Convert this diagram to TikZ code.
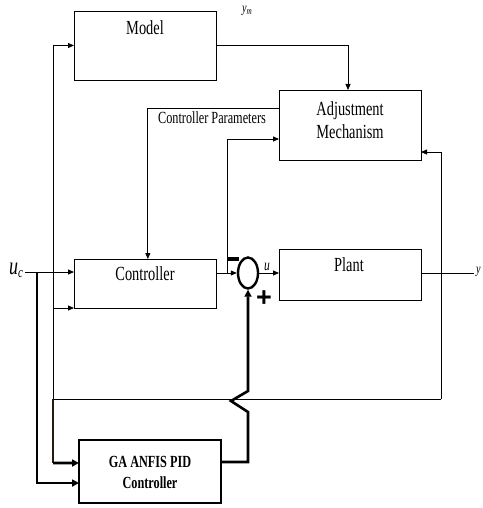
\documentclass[tikz,border=0pt]{standalone}
\usepackage{fontspec}
\setmainfont{Liberation Serif}[FakeStretch=0.72]
\newfontfamily\signfont{Liberation Sans}
\usetikzlibrary{arrows.meta,shapes.geometric,calc}
\begin{document}
\begin{tikzpicture}[x=1pt,y=-1pt,
  box/.style={draw, line width=0.8pt, inner sep=0pt, outer sep=0pt},
  thickbox/.style={draw, line width=2.6pt, inner sep=0pt, outer sep=0pt},
  thin/.style={line width=0.8pt},
  heavy/.style={line width=2.6pt},
  tip/.style={-{Triangle[length=6pt,width=5pt]}},
  bigtip/.style={-{Triangle[length=7pt,width=7pt]}},
  lbl/.style={font=\fontsize{20}{23}\selectfont, inner sep=0pt, align=center},
  blbl/.style={font=\fontsize{17}{21}\selectfont\bfseries, inner sep=0pt, align=center}]
\useasboundingbox (0,0) rectangle (482,508);

% boxes
\node[box, minimum width=142pt, minimum height=69pt] (model) at (145,45.5) {};
\node[box, minimum width=142pt, minimum height=70pt] (adj) at (350,125) {};
\node[box, minimum width=142pt, minimum height=49pt] (ctrl) at (145,283.5) {};
\node[box, minimum width=142pt, minimum height=51pt] (plant) at (350,274.5) {};
\node[thickbox, minimum width=142pt, minimum height=63pt] (ga) at (150,471.5) {};
\node[draw, ellipse, line width=2.4pt, minimum width=20pt, minimum height=31pt, inner sep=0pt] (sum) at (248,273) {};

% box texts
\node[lbl] (tmodel) at (145,28) {Model};
\node[lbl] (tadj) at (350,120) {Adjustment\\Mechanism};
\node[lbl] (tctrl) at (145,274) {Controller};
\node[lbl] (tplant) at (349,265) {Plant};
\node[blbl] (tga) at (150,472) {GA ANFIS PID\\Controller};

% labels
\node[inner sep=0pt, font=\fontsize{17}{17}\selectfont] (tcp) at (212,118) {Controller Parameters};
\node[inner sep=0pt, font=\fontsize{14}{14}\selectfont\itshape] (tym) at (247,11) {y\raisebox{-2pt}{\fontsize{10}{10}\selectfont m}};
\node[inner sep=0pt, font=\fontsize{25}{25}\selectfont\itshape] (uc) at (16,270) {u\raisebox{-3pt}{\fontsize{15}{15}\selectfont c}};
\node[inner sep=0pt, font=\fontsize{16}{16}\selectfont\itshape] (tu) at (267,267) {u};
\node[inner sep=0pt, anchor=west, font=\fontsize{14}{14}\selectfont\itshape] (ty) at (476,272) {y};
\node[inner sep=0pt] (minus) at (233.5,259) {\rule{11pt}{3.5pt}};
\node[inner sep=0pt, font=\signfont\bfseries\fontsize{27}{27}\selectfont] (plus) at (264,299) {+};

% named points
\coordinate (ucs) at (25,272);
\coordinate (ucj) at (37,272);
\coordinate (fbl) at (53,399);
\coordinate (fbr) at (441,399);
\coordinate (br) at (227,273);
\coordinate (yout) at (474,273);
\coordinate (gaout) at (248,462);
\coordinate (hop1) at (248,412);
\coordinate (hop2) at (231,401);
\coordinate (hop3) at (248,391);

% thin connectors
\draw[thin,tip] (model.east) -| ($(adj.north west)!.486!(adj.north east)$);
\draw[thin,tip] ($(adj.north west)!.257!(adj.south west)$) -| ($(ctrl.north west)!.52!(ctrl.north east)$);
\draw[thin,tip] (ctrl.east |- sum) -- (sum.west);
\draw[thin,tip] (br) |- ($(adj.north west)!.7!(adj.south west)$);
\draw[thin,tip] (sum.east) -- (plant.west |- sum.east);
\draw[thin] (plant.east |- sum) -- (yout);
\draw[thin,tip] (fbr) |- ($(adj.north east)!.886!(adj.south east)$);
\draw[thin] (fbr) -- (fbl);
\draw[thin,tip] (fbl) |- (model.west);
\draw[thin,tip] (fbl |- ctrl.south west) -- (ctrl.south west);
\draw[thin,tip] (ucs) -- (ctrl.west |- ucs);

% thick connectors
\draw[line width=1.6pt, color=black!80!brown] (fbl) -- (fbl |- 0,463);
\draw[heavy,bigtip] (fbl |- 0,463) -- ($(ga.north west)!.365!(ga.south west)$);
\draw[heavy,bigtip] (ucj) |- ($(ga.north west)!.683!(ga.south west)$);
\draw[heavy,bigtip] (ga.east |- gaout) -- (gaout) -- (hop1) -- (hop2) -- (hop3) -- (sum.south);
\end{tikzpicture}
\end{document}
